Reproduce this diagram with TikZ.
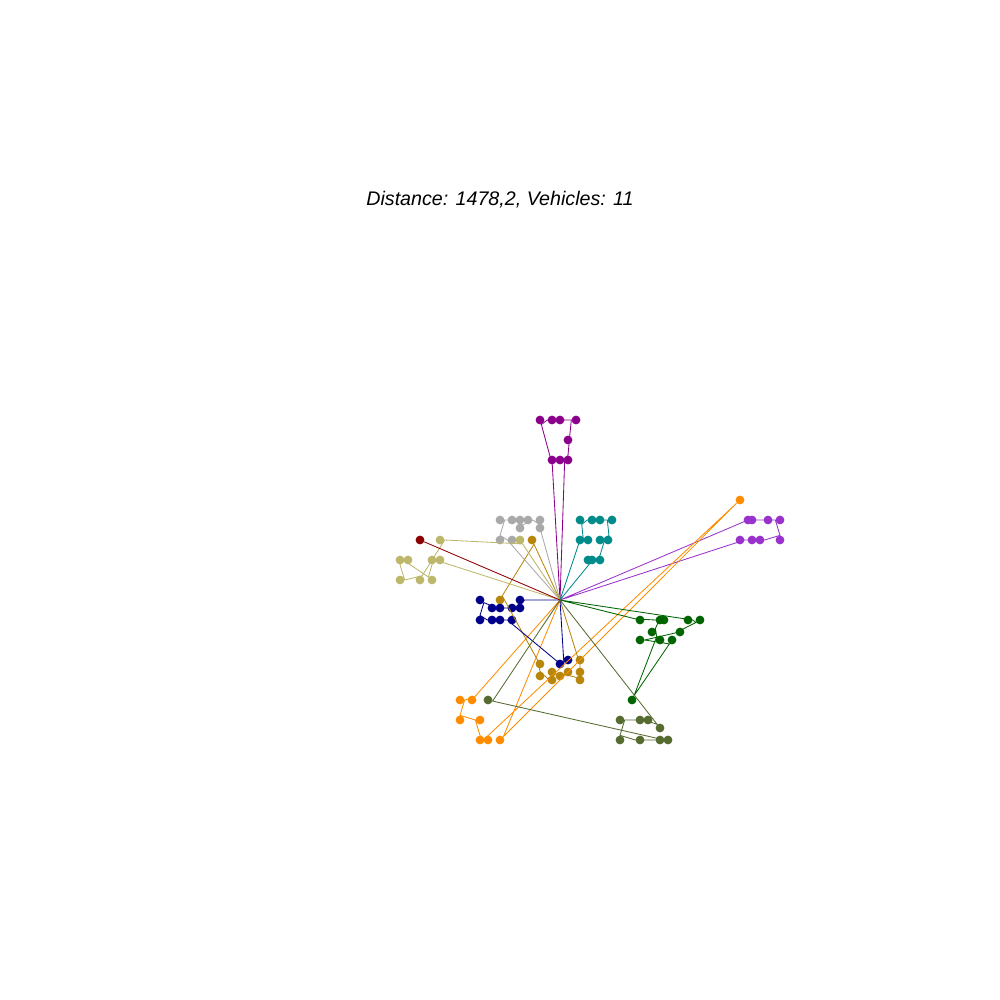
\documentclass[tikz,border=0pt]{standalone}
\usepackage{fontspec}
\setmainfont{Liberation Sans}
\usepackage{tikz}

\definecolor{dkmagenta}{HTML}{8B008B}
\definecolor{dkgray}{HTML}{A9A9A9}
\definecolor{dkcyan}{HTML}{008B8B}
\definecolor{dkorchid}{HTML}{9932CC}
\definecolor{dkorange}{HTML}{FF8C00}
\definecolor{dkgold}{HTML}{B8860B}
\definecolor{dkblue}{HTML}{00008B}
\definecolor{dkkhaki}{HTML}{BDB76B}
\definecolor{dkred}{HTML}{8B0000}
\definecolor{dkgreen}{HTML}{006400}
\definecolor{dkolive}{HTML}{556B2F}

\begin{document}
\begin{tikzpicture}[x=0.25mm,y=-0.25mm,
    pt/.style={circle,fill=#1,inner sep=0pt,minimum size=2.2mm},
    rt/.style={#1,line width=0.6pt}]
  \useasboundingbox (0,0) rectangle (1000,1000);
  \node[font=\fontsize{14}{16}\selectfont\itshape] (title) at (500,200) {Distance: 1478,2, Vehicles: 11};
  % depot
  \coordinate (D) at (560,600);
  % customers of each route, in visiting order
  \foreach \x/\y [count=\i] in {552/460,540/420,552/420,560/420,576/420,568/440,568/460,560/460}
    \node[pt=dkmagenta] (pu\i) at (\x,\y) {};
  \foreach \x/\y [count=\i] in {540/528,540/520,528/520,520/528,520/520,512/520,500/520,500/540,512/540}
    \node[pt=dkgray] (gy\i) at (\x,\y) {};
  \foreach \x/\y [count=\i] in {580/540,588/540,580/520,592/520,600/520,612/520,608/540,600/540,600/560,592/560,588/560}
    \node[pt=dkcyan] (tl\i) at (\x,\y) {};
  \foreach \x/\y [count=\i] in {748/520,752/520,768/520,780/520,780/540,760/540,752/540,740/540}
    \node[pt=dkorchid] (oc\i) at (\x,\y) {};
  \foreach \x/\y [count=\i] in {472/700,460/700,460/720,480/720,480/740,488/740,740/500,500/740}
    \node[pt=dkorange] (og\i) at (\x,\y) {};
  \foreach \x/\y [count=\i] in {532/540,500/600,540/664,540/676,552/680,552/672,560/676,568/672,580/680,580/672,580/660}
    \node[pt=dkgold] (gd\i) at (\x,\y) {};
  \foreach \x/\y [count=\i] in {520/600,520/608,512/608,500/608,492/608,480/600,480/620,492/620,500/620,512/620,560/664,568/660}
    \node[pt=dkblue] (bl\i) at (\x,\y) {};
  \foreach \x/\y [count=\i] in {520/540,440/540,420/580,400/580,400/560,408/560,432/580,432/560,440/560}
    \node[pt=dkkhaki] (kh\i) at (\x,\y) {};
  \node[pt=dkred] (rd1) at (420,540) {};
  \foreach \x/\y [count=\i] in {640/620,660/620,664/620,652/632,660/640,632/700,672/640,640/640,680/632,700/620,688/620}
    \node[pt=dkgreen] (gn\i) at (\x,\y) {};
  \foreach \x/\y [count=\i] in {660/728,648/720,640/720,620/720,620/740,640/740,668/740,660/740,488/700}
    \node[pt=dkolive] (ol\i) at (\x,\y) {};
  % routes
  \draw[rt=dkmagenta] (D) \foreach \i in {1,...,8} {-- (pu\i)} -- (D);
  \draw[rt=dkgray] (D) \foreach \i in {1,...,9} {-- (gy\i)} -- (D);
  \draw[rt=dkcyan] (D) \foreach \i in {1,...,11} {-- (tl\i)} -- (D);
  \draw[rt=dkorchid] (D) \foreach \i in {1,...,8} {-- (oc\i)} -- (D);
  \draw[rt=dkorange] (D) \foreach \i in {1,...,8} {-- (og\i)} -- (D);
  \draw[rt=dkgold] (D) \foreach \i in {1,...,11} {-- (gd\i)} -- (D);
  \draw[rt=dkblue] (D) \foreach \i in {1,...,12} {-- (bl\i)} -- (D);
  \draw[rt=dkkhaki] (D) \foreach \i in {1,...,9} {-- (kh\i)} -- (D);
  \draw[rt=dkred] (D) -- (rd1);
  \draw[rt=dkgreen] (D) \foreach \i in {1,...,11} {-- (gn\i)} -- (D);
  \draw[rt=dkolive] (D) \foreach \i in {1,...,9} {-- (ol\i)} -- (D);
\end{tikzpicture}
\end{document}
